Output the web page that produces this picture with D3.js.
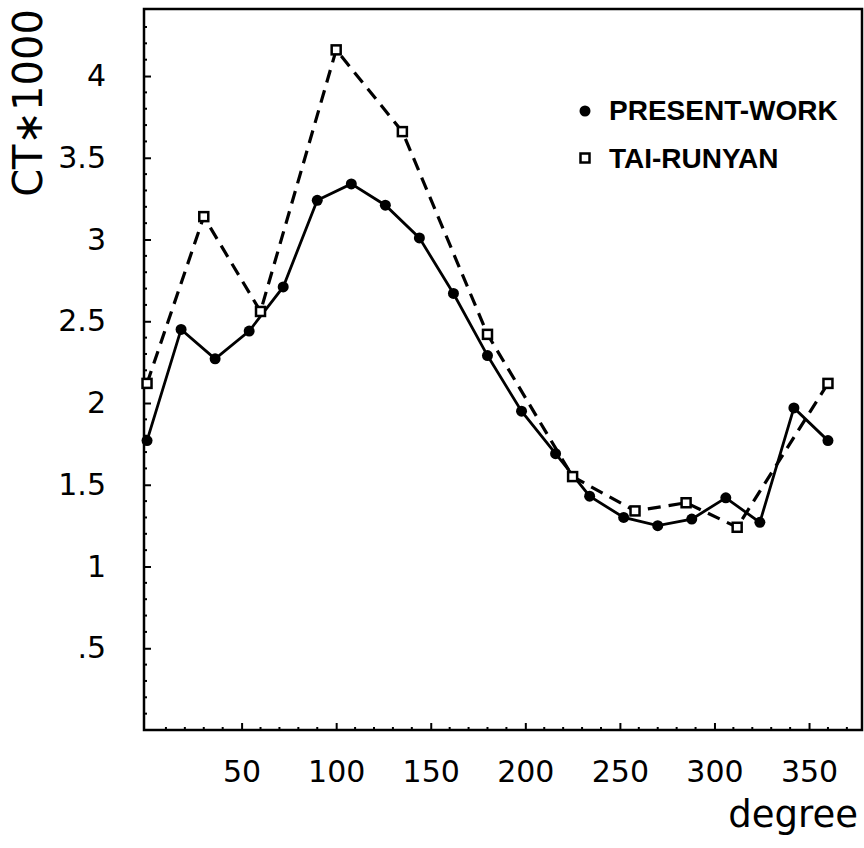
<!DOCTYPE html>
<html>
<head>
<meta charset="utf-8">
<script src="https://cdn.jsdelivr.net/npm/d3@7"></script>
<style>
  html, body { margin: 0; padding: 0; background: #fff; }
  svg { display: block; }
</style>
</head>
<body>
<div id="chart"></div>
<script>
// ---- data ----
const presentAngles = [0, 18, 36, 54, 72, 90, 108, 126, 144, 162, 180, 198, 216, 234, 252, 270, 288, 306, 324, 342, 360];
const presentValues = [1.77, 2.45, 2.27, 2.44, 2.71, 3.24, 3.34, 3.21, 3.01, 2.67, 2.29, 1.95, 1.69, 1.43, 1.30, 1.25, 1.29, 1.42, 1.27, 1.97, 1.77];
const taiAngles = [0, 30, 60, 100, 135, 180, 225, 258, 285, 312, 360];
const taiValues = [2.12, 3.14, 2.56, 4.16, 3.66, 2.42, 1.55, 1.34, 1.39, 1.24, 2.12];
const xTickValues = [50, 100, 150, 200, 250, 300, 350];
const yTickValues = [0.5, 1, 1.5, 2, 2.5, 3, 3.5, 4];
const yTickLabels = [".5", "1", "1.5", "2", "2.5", "3", "3.5", "4"];
const seriesNames = ["PRESENT-WORK", "TAI-RUNYAN"];
const xTitle = "degree";
const yTitle = "CT\u22171000";

// ---- layout ----
const W = 864, H = 848;
const pLeft = 144, pRight = 862, pTop = 9, pBottom = 730;

const svg = d3.select("#chart").append("svg")
  .attr("width", W).attr("height", H)
  .style("background", "#fff");

const x = d3.scaleLinear().domain([-1.6, 378]).range([pLeft, pRight]);
const y = d3.scaleLinear().domain([0, 4.41]).range([pBottom, pTop]);

const ink = "#000";
const axisFont = "'DejaVu Sans', sans-serif";

// frame
svg.append("rect")
  .attr("x", pLeft).attr("y", pTop)
  .attr("width", pRight - pLeft).attr("height", pBottom - pTop)
  .attr("fill", "none").attr("stroke", ink).attr("stroke-width", 2.5);

// x minor + major ticks (inward)
const xMinor = d3.range(10, 371, 10).filter(v => v % 50 !== 0);
svg.append("g").selectAll("line").data(xMinor).join("line")
  .attr("x1", d => x(d)).attr("x2", d => x(d))
  .attr("y1", pBottom).attr("y2", pBottom - 3)
  .attr("stroke", ink).attr("stroke-width", 2);

const xAxis = d3.axisBottom(x).tickValues(xTickValues).tickSizeInner(-7).tickSizeOuter(0).tickPadding(18);
const gx = svg.append("g").attr("transform", `translate(0,${pBottom})`).call(xAxis);
gx.select(".domain").remove();
gx.selectAll(".tick line").attr("stroke", ink).attr("stroke-width", 2);
gx.selectAll(".tick text")
  .attr("font-family", axisFont).attr("font-size", 30).attr("fill", ink)
  .attr("dy", null).attr("y", 52);

// y minor + major ticks (inward)
const yMinor = d3.range(1, 44).map(i => i / 10).filter(v => Math.abs(v * 2 - Math.round(v * 2)) > 1e-6);
svg.append("g").selectAll("line").data(yMinor).join("line")
  .attr("x1", pLeft).attr("x2", pLeft + 3)
  .attr("y1", d => y(d)).attr("y2", d => y(d))
  .attr("stroke", ink).attr("stroke-width", 2);

const yAxis = d3.axisLeft(y).tickValues(yTickValues)
  .tickFormat((d, i) => yTickLabels[i])
  .tickSizeInner(-7).tickSizeOuter(0).tickPadding(38);
const gy = svg.append("g").attr("transform", `translate(${pLeft},0)`).call(yAxis);
gy.select(".domain").remove();
gy.selectAll(".tick line").attr("stroke", ink).attr("stroke-width", 2);
gy.selectAll(".tick text")
  .attr("font-family", axisFont).attr("font-size", 30).attr("fill", ink);

// axis titles
svg.append("text")
  .attr("x", 858).attr("y", 827)
  .attr("text-anchor", "end")
  .attr("font-family", axisFont).attr("font-size", 37).attr("fill", ink)
  .text(xTitle);

svg.append("text")
  .attr("transform", "translate(42,103) rotate(-90)")
  .attr("text-anchor", "middle")
  .attr("font-family", axisFont).attr("font-size", 40).attr("fill", ink)
  .text(yTitle);

// series
const present = presentAngles.map((a, i) => ({ a, v: presentValues[i] }));
const tai = taiAngles.map((a, i) => ({ a, v: taiValues[i] }));
const line = d3.line().x(d => x(d.a)).y(d => y(d.v));

svg.append("path").datum(tai)
  .attr("d", line).attr("fill", "none")
  .attr("stroke", ink).attr("stroke-width", 3.2)
  .attr("stroke-dasharray", "13,8");

svg.append("path").datum(present)
  .attr("d", line).attr("fill", "none")
  .attr("stroke", ink).attr("stroke-width", 2.8);

svg.append("g").selectAll("circle").data(present).join("circle")
  .attr("cx", d => x(d.a)).attr("cy", d => y(d.v)).attr("r", 5.5)
  .attr("fill", ink);

const sq = 9;
svg.append("g").selectAll("rect").data(tai).join("rect")
  .attr("x", d => x(d.a) - sq / 2).attr("y", d => y(d.v) - sq / 2)
  .attr("width", sq).attr("height", sq)
  .attr("fill", "#fff").attr("stroke", ink).attr("stroke-width", 2.5);

// legend
const legFont = "'Liberation Sans', Arial, sans-serif";
svg.append("circle").attr("cx", 585).attr("cy", 111).attr("r", 5.5).attr("fill", ink);
svg.append("text").attr("x", 609).attr("y", 120)
  .attr("font-family", legFont).attr("font-weight", "bold").attr("font-size", 28).attr("fill", ink)
  .text(seriesNames[0]);
svg.append("rect").attr("x", 585 - sq / 2).attr("y", 158 - sq / 2)
  .attr("width", sq).attr("height", sq)
  .attr("fill", "#fff").attr("stroke", ink).attr("stroke-width", 2.5);
svg.append("text").attr("x", 609).attr("y", 168)
  .attr("font-family", legFont).attr("font-weight", "bold").attr("font-size", 28).attr("fill", ink)
  .text(seriesNames[1]);
</script>
</body>
</html>
